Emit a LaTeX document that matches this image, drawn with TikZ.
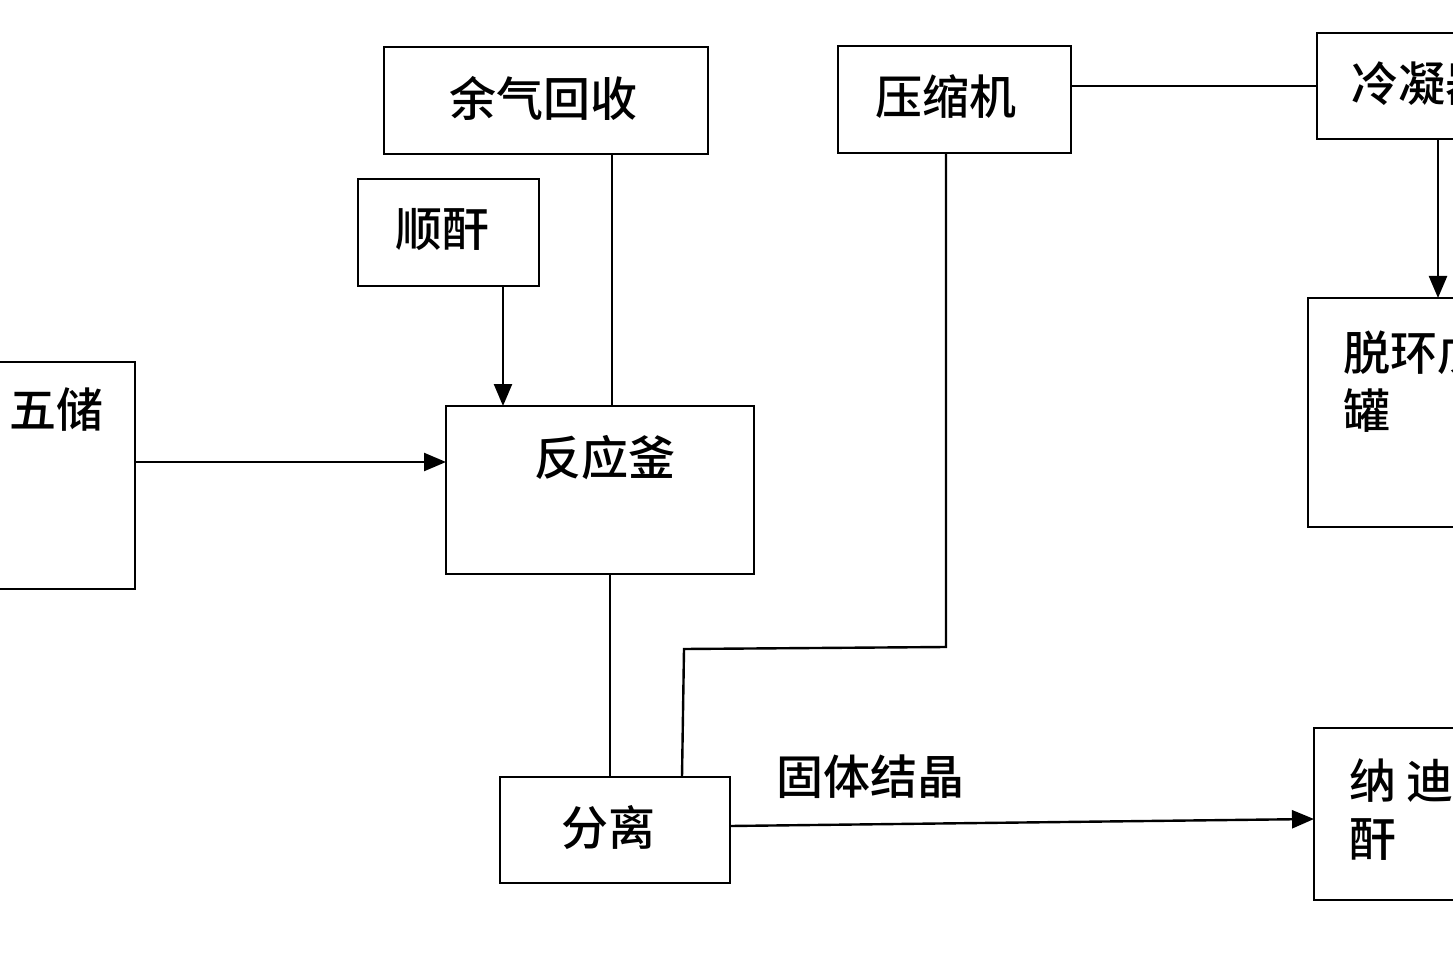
\documentclass[tikz,border=0pt]{standalone}
\usepackage{fontspec}
\setmainfont{Noto Sans CJK SC}[BoldFont={Noto Sans CJK SC Medium}]
\usetikzlibrary{arrows.meta}
\begin{document}
\begin{tikzpicture}[x=1pt,y=-1pt,line width=2.4pt,
 box/.style={draw,line width=2.4pt},
 lab/.style={font=\fontsize{47}{58}\selectfont\bfseries,inner sep=0},
 arr/.style={-{Triangle[length=22pt,width=18pt]}}]
\useasboundingbox (0,0) rectangle (1453,968);
\clip (0,0) rectangle (1453,968);
\draw[box] (384,47) rectangle (708,154);
\node[lab] (yq) at (543,98) {余气回收};
\draw[box] (358,179) rectangle (539,286);
\node[lab] (sg) at (442,230) {顺酐};
\draw[box] (838,46) rectangle (1071,153);
\node[lab] (ysj) at (946,97) {压缩机};
\draw[box] (1317,33) rectangle (1470,139);
\node[lab,anchor=west] (ln) at (1350,84) {冷凝器};
\draw[box] (-10,362) rectangle (135,589);
\node[lab,anchor=east] (cg) at (105,410) {五储};
\draw[box] (446,406) rectangle (754,574);
\node[lab] (fyf) at (605,458) {反应釜};
\draw[box] (1308,298) rectangle (1470,527);
\node[lab,anchor=west,align=left] (th) at (1342,382) {脱环戊\\罐};
\draw[box] (500,777) rectangle (730,883);
\node[lab] (fl) at (608,828) {分离};
\draw[box] (1314,728) rectangle (1470,900);
\node[lab,anchor=west,align=left] (nd) at (1348,810) {纳 迪\\酐};
\node[lab] (gt) at (870,777) {固体结晶};
% connectors
\draw (612,154) -- (612,406);
\draw[arr] (503,286) -- (503,406);
\draw[arr] (135,462) -- (446,462);
\draw (610,574) -- (610,777);
\draw (682,777) -- (684,649) -- (946,647) -- (946,153);
\draw (1071,86) -- (1317,86);
\draw[arr] (1438,139) -- (1438,298);
\draw[arr] (730,826) -- (1314,819);
\end{tikzpicture}
\end{document}
